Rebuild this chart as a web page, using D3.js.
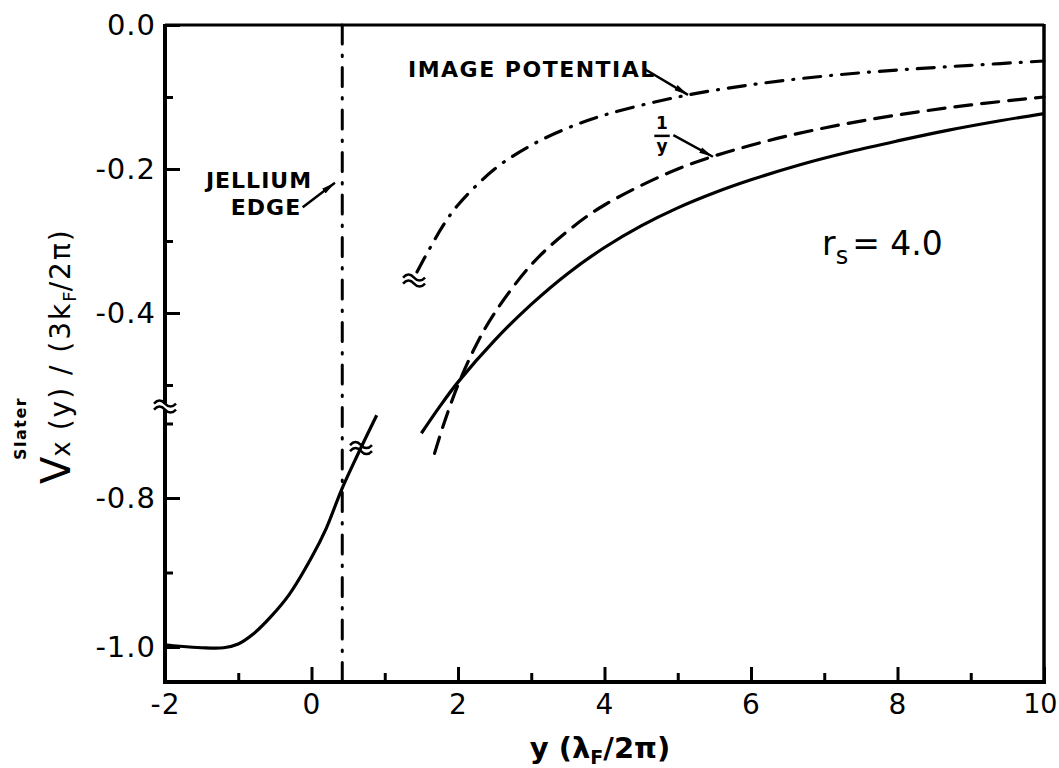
<!DOCTYPE html>
<html>
<head>
<meta charset="utf-8">
<script src="https://cdn.jsdelivr.net/npm/d3@7"></script>
<style>
  body { margin: 0; background: #fff; }
  text { font-family: 'DejaVu Sans', sans-serif; fill: #000; }
</style>
</head>
<body>
<div id="chart"></div>
<script>
// values

// solid curve, part inside / near the jellium (lower axis section)
let slaterLowX = [-2, -1.8, -1.5, -1.2, -1.0, -0.8, -0.57, -0.3, 0, 0.2, 0.41, 0.62, 0.89]
let slaterLowY = [-0.997, -0.999, -1.001, -1.001, -0.996, -0.983, -0.961, -0.929, -0.880, -0.841, -0.789, -0.744, -0.689]

// solid curve, outside part (upper axis section)
let slaterUpX = [1.5, 1.75, 2, 2.5, 3, 3.5, 4, 4.5, 5, 5.5, 6, 6.67, 7.35, 8, 8.7, 9.4, 10]
let slaterUpY = [-0.567, -0.530, -0.496, -0.438, -0.388, -0.345, -0.309, -0.279, -0.254, -0.233, -0.215, -0.194, -0.176, -0.161, -0.146, -0.133, -0.123]

// dashed 1/y curve
let invX = [1.68, 1.8, 2, 2.25, 2.5, 3, 3.5, 4, 5, 6, 7, 8, 9, 10]
let invY = [-0.595, -0.556, -0.5, -0.444, -0.4, -0.333, -0.286, -0.25, -0.2, -0.167, -0.143, -0.125, -0.111, -0.1]

// dash-dot image potential
let imageX = [1.44, 1.6, 1.8, 2, 2.5, 3, 3.5, 4, 5, 6, 7, 8, 9, 10]
let imageY = [-0.343, -0.313, -0.278, -0.25, -0.2, -0.167, -0.143, -0.125, -0.1, -0.083, -0.071, -0.0625, -0.056, -0.05]

let jelliumEdge = 0.42

let xMajor = [-2, 0, 2, 4, 6, 8, 10]
let xMinor = [-1, 1, 3, 5, 7, 9]
let yUpMajor = [0, -0.2, -0.4]
let yUpMinor = [-0.1, -0.3, -0.5]
let yLowMajor = [-0.8, -1.0]
let yLowMinor = [-0.7, -0.9]

let width = 1059
let height = 768
let plotLeft = 165, plotRight = 1044, plotTop = 25, plotBottom = 682

let svg = d3
  .select('#chart')
  .append('svg')
  .attr('width', width)
  .attr('height', height)

// scales: the y axis is broken, so two pieces
let x = d3.scaleLinear().domain([-2, 10]).range([plotLeft, plotRight])
let yUp = d3.scaleLinear().domain([0, -0.4]).range([plotTop, 313])
let yLow = d3.scaleLinear().domain([-0.8, -1.0]).range([498, 647])

let fmt = d => d.toFixed(1)

function styleAxis(g, size) {
  g.select('.domain').remove()
  g.selectAll('line').attr('stroke', '#000').attr('stroke-width', 3)
  g.selectAll('text')
    .attr('font-family', 'DejaVu Sans, sans-serif')
    .attr('font-size', size)
    .attr('letter-spacing', 1)
}

// x axis
svg.append('g')
  .attr('transform', `translate(0,${plotBottom})`)
  .call(d3.axisBottom(x).tickValues(xMajor).tickSize(-15).tickPadding(12).tickFormat(d => String(d)))
  .call(g => styleAxis(g, 28))
  .call(g => g.selectAll('text').filter(d => d === 10) // keep the last label inside the page
    .attr('letter-spacing', 0)
    .attr('font-size', 27)
    .attr('text-anchor', 'end')
    .attr('dx', 13))

svg.append('g')
  .attr('transform', `translate(0,${plotBottom})`)
  .call(d3.axisBottom(x).tickValues(xMinor).tickSize(-9).tickFormat(''))
  .call(g => styleAxis(g, 28))

// y axis, upper and lower sections
svg.append('g')
  .attr('transform', `translate(${plotLeft},0)`)
  .call(d3.axisLeft(yUp).tickValues(yUpMajor).tickSize(-15).tickPadding(9).tickFormat(fmt))
  .call(g => styleAxis(g, 29))

svg.append('g')
  .attr('transform', `translate(${plotLeft},0)`)
  .call(d3.axisLeft(yUp).tickValues(yUpMinor).tickSize(-8).tickFormat(''))
  .call(g => styleAxis(g, 29))

svg.append('g')
  .attr('transform', `translate(${plotLeft},0)`)
  .call(d3.axisLeft(yLow).tickValues(yLowMajor).tickSize(-15).tickPadding(9).tickFormat(fmt))
  .call(g => styleAxis(g, 29))

svg.append('g')
  .attr('transform', `translate(${plotLeft},0)`)
  .call(d3.axisLeft(yLow).tickValues(yLowMinor).tickSize(-8).tickFormat(''))
  .call(g => styleAxis(g, 29))

// frame
let frame = svg.append('g').attr('stroke', '#000').attr('fill', 'none')
frame.append('line').attr('x1', plotLeft).attr('x2', plotLeft).attr('y1', plotTop - 1).attr('y2', plotBottom + 2).attr('stroke-width', 4)
frame.append('line').attr('x1', plotLeft - 2).attr('x2', plotRight + 2).attr('y1', plotBottom).attr('y2', plotBottom).attr('stroke-width', 4)
frame.append('line').attr('x1', plotLeft).attr('x2', plotRight).attr('y1', plotTop).attr('y2', plotTop).attr('stroke-width', 3)
frame.append('line').attr('x1', plotRight).attr('x2', plotRight).attr('y1', plotTop - 1).attr('y2', plotBottom + 2).attr('stroke-width', 3.5)

// jellium edge
svg.append('line')
  .attr('x1', x(jelliumEdge)).attr('x2', x(jelliumEdge))
  .attr('y1', plotTop).attr('y2', plotBottom)
  .attr('stroke', '#000')
  .attr('stroke-width', 3)
  .attr('stroke-linecap', 'round')
  .attr('stroke-dasharray', '19 11 1.5 11')

// curves
function pts(xs, ys) {
  return xs.map((d, i) => [d, ys[i]])
}

let lineUp = d3.line().x(d => x(d[0])).y(d => yUp(d[1])).curve(d3.curveCatmullRom)
let lineLow = d3.line().x(d => x(d[0])).y(d => yLow(d[1])).curve(d3.curveCatmullRom)

svg.append('path')
  .datum(pts(slaterLowX, slaterLowY))
  .attr('d', lineLow)
  .attr('fill', 'none')
  .attr('stroke', '#000')
  .attr('stroke-width', 3.2)

svg.append('path')
  .datum(pts(slaterUpX, slaterUpY))
  .attr('d', lineUp)
  .attr('fill', 'none')
  .attr('stroke', '#000')
  .attr('stroke-width', 3.2)

svg.append('path')
  .datum(pts(invX, invY))
  .attr('d', lineUp)
  .attr('fill', 'none')
  .attr('stroke', '#000')
  .attr('stroke-width', 3.2)
  .attr('stroke-linecap', 'round')
  .attr('stroke-dasharray', '17 10')

svg.append('path')
  .datum(pts(imageX, imageY))
  .attr('d', lineUp)
  .attr('fill', 'none')
  .attr('stroke', '#000')
  .attr('stroke-width', 3.2)
  .attr('stroke-linecap', 'round')
  .attr('stroke-dasharray', '17 10 1 10')

// break marks (two little waves)
function breakMark(cx, cy, w, blank) {
  let g = svg.append('g')
  if (blank) {
    g.append('rect')
      .attr('x', cx - 4).attr('y', cy - 3)
      .attr('width', 8).attr('height', 6)
      .attr('fill', '#fff')
  }
  ;[-3, 3].forEach(off => {
    g.append('path')
      .attr('d', `M${cx - w / 2},${cy + off} q${w / 4},-6 ${w / 2},0 t${w / 2},0`)
      .attr('fill', 'none')
      .attr('stroke', '#000')
      .attr('stroke-width', 2.5)
  })
}

breakMark(plotLeft, yUp(-0.53), 22, true)
breakMark(x(0.676), yLow(-0.733), 22, false)
breakMark(x(1.40), yUp(-0.355), 22, false)

// arrows
svg.append('defs')
  .append('marker')
  .attr('id', 'head')
  .attr('markerUnits', 'userSpaceOnUse')
  .attr('markerWidth', 16)
  .attr('markerHeight', 8)
  .attr('refX', 14)
  .attr('refY', 4)
  .attr('orient', 'auto')
  .append('path')
  .attr('d', 'M0,1 L14,4 L0,7 Z')
  .attr('fill', '#000')

function arrow(x1, y1, x2, y2) {
  svg.append('line')
    .attr('x1', x(x1)).attr('y1', yUp(y1))
    .attr('x2', x(x2)).attr('y2', yUp(y2))
    .attr('stroke', '#000')
    .attr('stroke-width', 2.5)
    .attr('marker-end', 'url(#head)')
}

arrow(4.53, -0.060, 5.14, -0.097)
arrow(4.94, -0.153, 5.48, -0.183)
arrow(-0.12, -0.253, 0.32, -0.219)

// annotation labels
let lab = svg.append('g').attr('font-weight', 'bold').attr('font-size', 22)

lab.append('text')
  .attr('x', x(1.317)).attr('y', yUp(-0.072))
  .attr('letter-spacing', 1.5)
  .text('IMAGE POTENTIAL')

lab.append('text')
  .attr('x', x(-0.717)).attr('y', yUp(-0.226))
  .attr('text-anchor', 'middle')
  .attr('letter-spacing', 1)
  .text('JELLIUM')

lab.append('text')
  .attr('x', x(-0.621)).attr('y', yUp(-0.264))
  .attr('text-anchor', 'middle')
  .attr('letter-spacing', 1)
  .text('EDGE')

lab.append('text')
  .attr('x', x(4.785)).attr('y', yUp(-0.144))
  .attr('text-anchor', 'middle')
  .attr('font-size', 17)
  .text('1')

lab.append('line')
  .attr('x1', x(4.68)).attr('x2', x(4.89))
  .attr('y1', yUp(-0.154)).attr('y2', yUp(-0.154))
  .attr('stroke', '#000')
  .attr('stroke-width', 2.5)

lab.append('text')
  .attr('x', x(4.785)).attr('y', yUp(-0.176))
  .attr('text-anchor', 'middle')
  .attr('font-size', 17)
  .text('y')

// r_s = 4.0
let rs = svg.append('text')
  .attr('x', x(6.97)).attr('y', yUp(-0.319))
  .attr('font-size', 33)
rs.append('tspan').text('r')
rs.append('tspan').attr('font-size', 24).attr('dy', 9).text('s')
rs.append('tspan').attr('dy', -9).attr('dx', 4).text('= 4.0')

// x axis title
let xt = svg.append('text')
  .attr('x', 600).attr('y', 758)
  .attr('text-anchor', 'middle')
  .attr('font-size', 29)
  .attr('font-weight', 'bold')
xt.append('tspan').text('y (λ')
xt.append('tspan').attr('font-size', 19).attr('dy', 6).text('F')
xt.append('tspan').attr('dy', -6).text('/2π)')

// y axis title
let yt = svg.append('g').attr('transform', 'translate(70,484) rotate(-90)')
let ytt = yt.append('text').attr('font-size', 28)
ytt.append('tspan').attr('font-size', 40).text('V')
ytt.append('tspan').attr('font-size', 26).text('x')
ytt.append('tspan').attr('letter-spacing', 2).text(' (y) / (3k')
ytt.append('tspan').attr('font-size', 18).attr('dy', 6).text('F')
ytt.append('tspan').attr('dy', -6).attr('letter-spacing', 2).text('/2π)')

yt.append('text')
  .attr('x', 24).attr('y', -44)
  .attr('font-size', 16)
  .attr('font-weight', 'bold')
  .attr('letter-spacing', 1.5)
  .text('Slater')
</script>
</body>
</html>
